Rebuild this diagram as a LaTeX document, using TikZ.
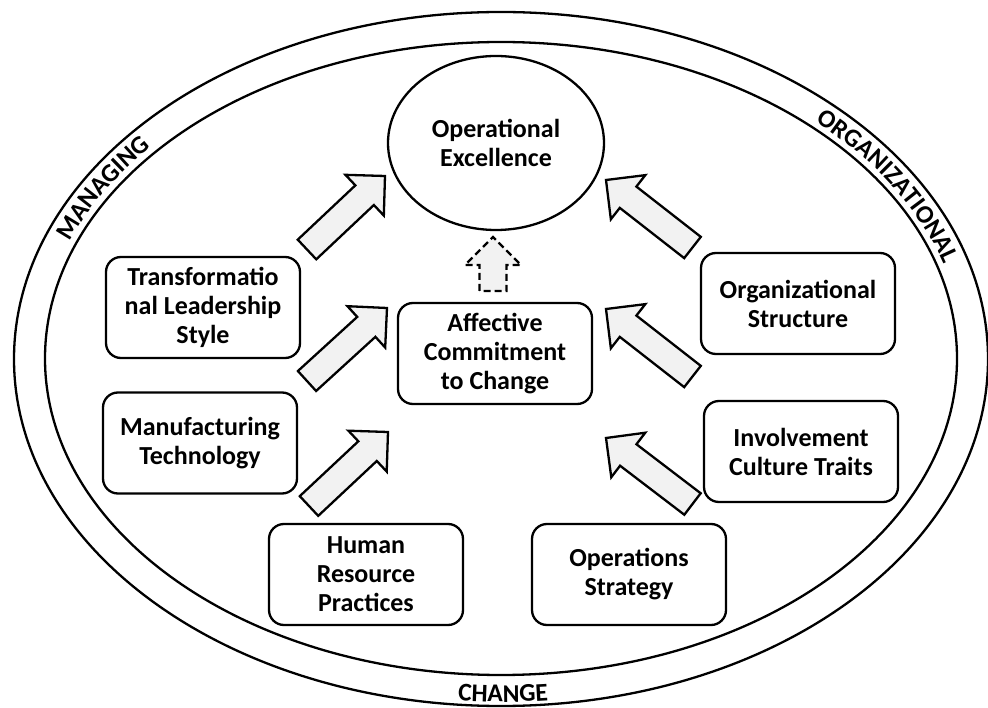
\documentclass[tikz,border=0pt]{standalone}
\usepackage{fontspec}
\setmainfont{Carlito}
\usetikzlibrary{shapes.geometric,calc,decorations.text}
\definecolor{arrowgray}{HTML}{F2F2F2}
\newcommand\ringfont{\bfseries\fontsize{25.5}{29}\selectfont}
\tikzset{
  ringline/.style={ellipse, draw, line width=2.3pt, inner sep=0pt, outer sep=0pt},
  factorbox/.style={draw, line width=2.3pt, rounded corners=15pt, fill=white,
    minimum width=194pt, minimum height=101pt, align=center, inner sep=2pt,
    font=\bfseries\fontsize{26}{29}\selectfont},
  goalshape/.style={ellipse, draw, line width=2.3pt, minimum width=216pt,
    minimum height=174pt, align=center, inner sep=0pt,
    font=\bfseries\fontsize{26}{28.5}\selectfont},
  fatarrowstyle/.style={draw, line width=2.3pt, fill=arrowgray, line join=miter},
  dashedarrow/.style={dash pattern=on 7pt off 4pt},
}
\newcommand\fatarrow[3][]{%
  \path ($(#3)!28pt!(#2)$) coordinate (hb);
  \draw[fatarrowstyle,#1] ($(#2)!13.5pt!90:(#3)$) -- ($(hb)!13.5pt!-90:(#2)$)
    -- ($(hb)!28pt!-90:(#2)$) -- (#3) -- ($(hb)!28pt!90:(#2)$)
    -- ($(hb)!13.5pt!90:(#2)$) -- ($(#2)!13.5pt!-90:(#3)$) -- cycle;
}
\begin{document}
\begin{tikzpicture}[x=1pt,y=-1pt]
\useasboundingbox (0,0) rectangle (988,708);
% rings
\node[ringline, minimum width=974pt, minimum height=694pt] (outer) at (501,359) {};
\node[ringline, minimum width=912pt, minimum height=633pt] (inner) at (501,358.5) {};
% ring labels
\path[decorate, decoration={text along path, text align=center, text={|\ringfont|MANAGING}}]
  ([shift={(188:463 and 323.5)}]501,359) arc[start angle=188, end angle=232, x radius=463, y radius=323.5];
\path[decorate, decoration={text along path, text align=center, text={|\ringfont|ORGANIZATIONAL}}]
  ([shift={(304:463 and 323.5)}]501,359) arc[start angle=304, end angle=354, x radius=463, y radius=323.5];
\path[decorate, decoration={text along path, text align=center, text={|\ringfont|CHANGE}}]
  ([shift={(100:483 and 343)}]503,359) arc[start angle=100, end angle=80, x radius=483, y radius=343];
% nodes
\node[goalshape] (oe) at (496,143) {Operational\\Excellence};
\node[factorbox] (acc) at (495,353.5) {Affective\\Commitment\\to Change};
\node[factorbox] (tls) at (203,307.5) {Transformatio\\nal Leadership\\Style};
\node[factorbox] (mt) at (200,443) {Manufacturing\\Technology};
\node[factorbox] (hrp) at (366,574.5) {Human\\Resource\\Practices};
\node[factorbox] (ops) at (629,574.5) {Operations\\Strategy};
\node[factorbox] (ict) at (801,451.5) {Involvement\\Culture Traits};
\node[factorbox] (ost) at (798,303.5) {Organizational\\Structure};
% arrow end points
\coordinate (l1a) at (307,249.5); \coordinate (l1b) at (385,176);
\coordinate (l2a) at (307,381);   \coordinate (l2b) at (387,308);
\coordinate (l3a) at (309,506);   \coordinate (l3b) at (388,432);
\coordinate (r1a) at (692.5,247.5); \coordinate (r1b) at (606,180);
\coordinate (r2a) at (692.5,376.5); \coordinate (r2b) at (606,309);
\coordinate (r3a) at (692.5,504);   \coordinate (r3b) at (606,438);
\coordinate (da) at (493,291);      \coordinate (db) at (493,237);
\fatarrow{l1a}{l1b}
\fatarrow{l2a}{l2b}
\fatarrow{l3a}{l3b}
\fatarrow{r1a}{r1b}
\fatarrow{r2a}{r2b}
\fatarrow{r3a}{r3b}
\fatarrow[dashedarrow]{da}{db}
\end{tikzpicture}
\end{document}
